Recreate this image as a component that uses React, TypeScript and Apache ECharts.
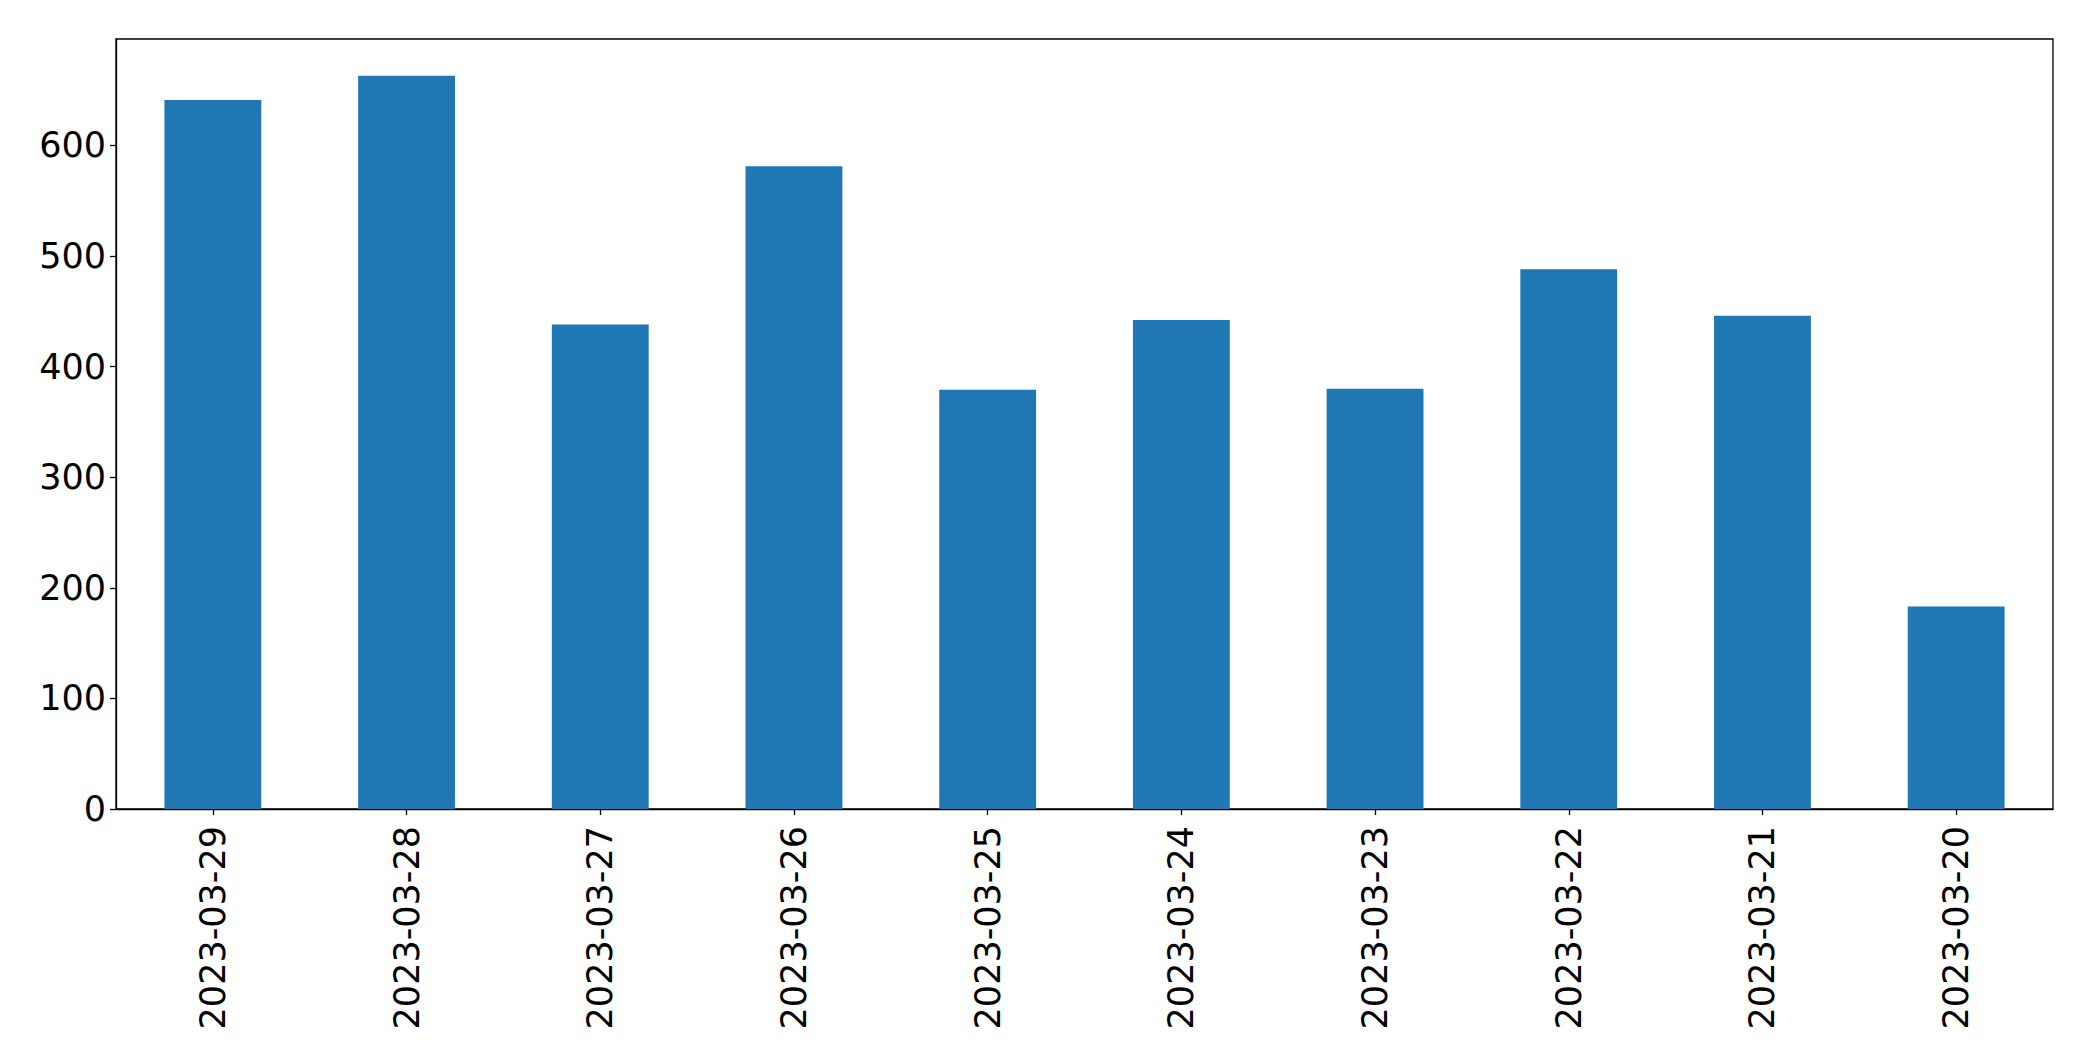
import React, { useEffect, useRef } from "react";
import * as echarts from "echarts";

const categories = [
  "2023-03-29",
  "2023-03-28",
  "2023-03-27",
  "2023-03-26",
  "2023-03-25",
  "2023-03-24",
  "2023-03-23",
  "2023-03-22",
  "2023-03-21",
  "2023-03-20",
];
const values = [641, 663, 438, 581, 379, 442, 380, 488, 446, 183];
const yTicks = [0, 100, 200, 300, 400, 500, 600];
const yMax = 696.15;

export default function App() {
  const ref = useRef<HTMLDivElement>(null);
  useEffect(() => {
    if (!ref.current) return;
    const chart = echarts.init(ref.current, null, { renderer: "svg" });
    const font = "DejaVu Sans";
    chart.setOption({
      animation: false,
      backgroundColor: "#ffffff",
      textStyle: { fontFamily: font, color: "#000" },
      grid: {
        left: 116,
        top: 39,
        width: 1937,
        height: 770,
        show: true,
        borderColor: "#000",
        borderWidth: 1.3,
        backgroundColor: "transparent",
        containLabel: false,
      },
      xAxis: {
        type: "category",
        data: categories,
        boundaryGap: true,
        axisLine: { show: true, lineStyle: { color: "#000", width: 1.3 } },
        axisTick: {
          show: true,
          alignWithLabel: true,
          length: 6,
          lineStyle: { color: "#000", width: 1.3 },
        },
        axisLabel: {
          rotate: 90,
          margin: 17,
          fontSize: 35,
          fontFamily: font,
          color: "#000",
          interval: 0,
        },
        splitLine: { show: false },
      },
      yAxis: {
        type: "value",
        min: 0,
        max: yMax,
        axisLine: { show: true, lineStyle: { color: "#000", width: 1.3 } },
        axisTick: {
          show: true,
          length: 6,
          customValues: yTicks,
          lineStyle: { color: "#000", width: 1.3 },
        },
        axisLabel: {
          margin: 10,
          fontSize: 35,
          fontFamily: font,
          color: "#000",
          customValues: yTicks,
        },
        splitLine: { show: false },
      },
      series: [
        {
          type: "bar",
          data: values,
          barWidth: "50%",
          itemStyle: { color: "#1f77b4" },
        },
      ],
    });
    return () => chart.dispose();
  }, []);
  return (
    <div
      ref={ref}
      style={{ position: "fixed", left: 0, top: 0, width: 2093, height: 1061, background: "#fff" }}
    />
  );
}
